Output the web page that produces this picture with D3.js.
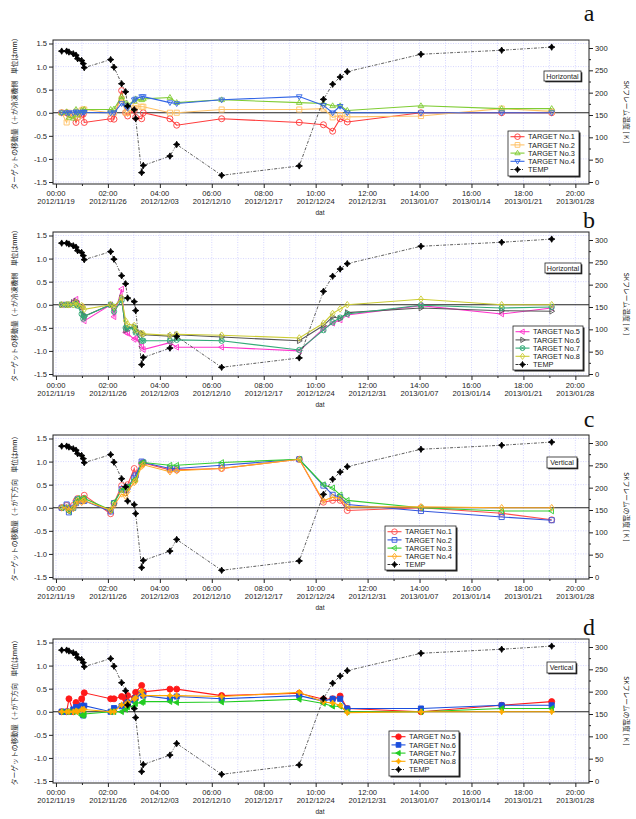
<!DOCTYPE html>
<html><head><meta charset="utf-8">
<script src="https://cdn.jsdelivr.net/npm/d3@7"></script>
<style>body{margin:0;background:#fff}svg{display:block}</style>
</head><body>
<svg id="chart" width="636" height="819"></svg>
<script>
// ---- data ----
// observation times, days since 2012/11/19 00:00
const days = [0.77,1.44,1.75,2.33,2.70,2.92,3.46,3.68,3.81,7.37,7.82,8.85,9.39,9.66,10.55,10.74,11.55,11.77,15.36,16.27,22.33,32.79,36.05,37.29,38.30,39.26,49.19,60.07,66.81];
// SK frame temperature [K]
const temp = [293,293,291,287,284,276,272,265,256,274,257,220,202,170,162,142,21,37,58,84,15,36,185,219,235,247,286,295,302];

// panel a : horizontal, targets 1-4
const hT1 = [0,0,-0.03,-0.05,-0.21,-0.1,-0.05,-0.03,-0.21,-0.13,-0.14,0.48,0.0,-0.07,0.05,-0.1,-0.13,0.0,-0.13,-0.27,-0.13,-0.21,-0.26,-0.4,-0.13,-0.2,0.0,0.0,0.0];
const hT2 = [0,-0.21,0,-0.05,0.02,-0.1,0.05,0.07,0.07,0,0,0.3,0.0,0.0,0.1,0.15,0.13,0.13,0,0,0.07,0.07,0.09,-0.1,-0.05,-0.09,-0.07,0.09,0.03];
const hT3 = [0,0.02,-0.1,-0.12,0.07,-0.05,0.05,0.03,0.07,0.07,0.08,0.35,0.2,0.18,0.25,0.3,0.28,0.3,0.33,0.22,0.28,0.22,0.2,0.15,0.15,0.05,0.15,0.09,0.09];
const hT4 = [0,0,0,0,0.02,0,0,0.02,0.01,0,0,0.2,0.15,0.1,0.28,0.3,0.35,0.35,0.22,0.2,0.28,0.35,0.16,0.0,0.14,0.0,0.0,0.0,0.0];
// panel b : horizontal, targets 5-8
const hT5 = [0,0,0,0.05,0.12,0.02,-0.05,-0.25,-0.35,0,-0.26,0.34,-0.6,-0.62,-0.75,-0.72,-0.9,-0.97,-0.82,-0.92,-0.92,-1.0,-0.52,-0.4,-0.33,-0.22,-0.02,-0.2,-0.07];
const hT6 = [0,0,0,0.05,0.08,0,-0.05,-0.22,-0.25,0,-0.05,0.15,-0.55,-0.5,-0.48,-0.55,-0.62,-0.65,-0.68,-0.65,-0.7,-0.78,-0.45,-0.26,-0.3,-0.17,-0.07,-0.13,-0.14];
const hT7 = [0,0,0,0,0.02,-0.02,-0.2,-0.3,-0.25,0,-0.15,0.1,-0.5,-0.52,-0.5,-0.6,-0.78,-0.78,-0.78,-0.76,-0.78,-0.98,-0.55,-0.38,-0.28,-0.2,-0.01,-0.07,-0.05];
const hT8 = [0,0,0,0,0.05,0,-0.02,-0.05,-0.1,0,-0.05,0.15,-0.35,-0.42,-0.45,-0.55,-0.62,-0.63,-0.66,-0.64,-0.66,-0.72,-0.4,-0.19,-0.09,0.0,0.12,0.0,0.0];
// panel c : vertical, targets 1-4
const vT1 = [0,0.05,-0.05,0.05,0.15,0.2,0.15,0.2,0.27,-0.13,0.1,0.48,0.4,0.5,0.85,0.72,0.95,0.97,0.82,0.82,0.85,1.05,0.12,0.16,0.16,-0.06,0.0,-0.12,-0.26];
const vT2 = [0,0.07,-0.1,0.0,0.1,0.18,0.15,0.15,0.15,-0.08,0.1,0.4,0.38,0.45,0.65,0.7,1.0,0.98,0.85,0.85,0.92,1.05,0.48,0.28,0.23,0.07,-0.07,-0.2,-0.27];
const vT3 = [0,0,-0.08,0,0.12,0.2,0.2,0.18,0.2,-0.05,0.12,0.38,0.42,0.45,0.6,0.62,0.97,0.98,0.92,0.92,0.98,1.05,0.5,0.43,0.28,0.16,0.0,-0.07,-0.07];
const vT4 = [0,0,-0.05,-0.02,0.08,0.15,0.12,0.15,0.15,-0.05,0.05,0.3,0.25,0.35,0.55,0.58,0.9,0.93,0.78,0.8,0.85,1.05,0.15,0.23,0.2,0.02,0.02,0.0,0.0];
// panel d : vertical, targets 5-8
const vT5 = [0,0,0.28,0,0.2,0.1,0.28,0.12,0.41,0.28,0.28,0.33,0.27,0.35,0.3,0.42,0.57,0.43,0.49,0.49,0.35,0.4,0.27,0.28,0.34,0.07,0.0,0.14,0.22];
const vT6 = [0,0,0,0.05,0.1,0.05,0.13,-0.08,0.13,0,0.08,0.12,0.15,0.2,0.25,0.3,0.4,0.35,0.28,0.33,0.28,0.35,0.23,0.28,0.28,0.07,0.07,0.14,0.14];
const vT7 = [0,0,0,0,0,0,-0.08,-0.08,-0.05,0,0,0,0.05,0.1,0.12,0.18,0.2,0.22,0.22,0.2,0.21,0.27,0.18,0.12,0.12,0.0,0.0,0.07,0.07];
const vT8 = [0,0,0,0,0.02,0,0.05,0.05,0.05,0,0,0.15,0.15,0.2,0.28,0.3,0.45,0.35,0.35,0.35,0.33,0.42,0.21,0.19,0.14,-0.02,0.0,0.0,0.0];

const tickDays = [0,7,14,21,28,35,42,49,56,63,70];
const tickTimes = ["00:00","02:00","04:00","06:00","08:00","10:00","12:00","14:00","16:00","18:00","20:00"];
const tickDates = ["2012/11/19","2012/11/26","2012/12/03","2012/12/10","2012/12/17","2012/12/24","2012/12/31","2013/01/07","2013/01/14","2013/01/21","2013/01/28"];
const leftTicks = [-1.5,-1.0,-0.5,0.0,0.5,1.0,1.5];
const rightTicks = [0,50,100,150,200,250,300];
const panelLetters = ["a","b","c","d"];
const modeLabels = ["Horizontal","Horizontal","Vertical","Vertical"];
const leftTitles = ["ターゲットの移動量（＋が冷凍機側　単位はmm）","ターゲットの移動量（＋が冷凍機側　単位はmm）","ターゲットの移動量（＋が下方向　単位はmm）","ターゲットの移動量（＋が下方向　単位はmm）"];
const rightTitles = ["SKフレーム温度 [ K ]","SKフレーム温度 [ K ]","SKフレームの温度 [ K ]","SKフレームの温度 [ K ]"];
const xTitle = "dat";
const tempName = "TEMP";

// ---- layout / style ----
const panels = [
  {top:40, series:[
    {name:"TARGET No.1", v:hT1, color:"#ff3b3b", m:"circle", fill:false},
    {name:"TARGET No.2", v:hT2, color:"#ffc266", m:"square", fill:false},
    {name:"TARGET No.3", v:hT3, color:"#7fcc33", m:"up", fill:false},
    {name:"TARGET No.4", v:hT4, color:"#3366e6", m:"down", fill:false}],
   legend:[508,131,71,45], box:[544,71,37,10]},
  {top:232, series:[
    {name:"TARGET No.5", v:hT5, color:"#ff33cc", m:"left", fill:false},
    {name:"TARGET No.6", v:hT6, color:"#555555", m:"right", fill:false},
    {name:"TARGET No.7", v:hT7, color:"#33aa77", m:"circx", fill:false},
    {name:"TARGET No.8", v:hT8, color:"#cccc33", m:"diamond", fill:false}],
   legend:[513,326,70,44], box:[545,263,36,10]},
  {top:435, series:[
    {name:"TARGET No.1", v:vT1, color:"#ff4d4d", m:"circle", fill:false},
    {name:"TARGET No.2", v:vT2, color:"#3355dd", m:"square", fill:false},
    {name:"TARGET No.3", v:vT3, color:"#33cc33", m:"left", fill:false},
    {name:"TARGET No.4", v:vT4, color:"#ffaa22", m:"diamond", fill:false}],
   legend:[385,526,71,44], box:[547,457,30,11]},
  {top:639, series:[
    {name:"TARGET No.5", v:vT5, color:"#ff1a1a", m:"circle", fill:true},
    {name:"TARGET No.6", v:vT6, color:"#1a4ddd", m:"square", fill:true},
    {name:"TARGET No.7", v:vT7, color:"#22cc22", m:"left", fill:true},
    {name:"TARGET No.8", v:vT8, color:"#ffaa00", m:"star", fill:true}],
   legend:[389,731,70,45], box:[547,662,29,11]}
];
const letterBase = [21,228,427,635];

const L = 53, R = 589, H = 144;
const FONT = "'Liberation Sans', Arial, sans-serif";
const CJK = "'Noto Sans CJK JP', sans-serif";
const svg = d3.select("#chart");
const x = d3.scaleLinear().domain([-0.4, 71.84]).range([L, R]);

function mk(type, r) {
  const a = r*0.95, b = r*0.6;
  switch (type) {
    case "circle": return d3.symbol(d3.symbolCircle, Math.PI*r*r)();
    case "square": { const s = r*0.85; return `M${-s},${-s}H${s}V${s}H${-s}Z`; }
    case "up": return `M0,${-r}L${a},${b}L${-a},${b}Z`;
    case "down": return `M0,${r}L${a},${-b}L${-a},${-b}Z`;
    case "left": return `M${-r},0L${b},${-a}L${b},${a}Z`;
    case "right": return `M${r},0L${-b},${-a}L${-b},${a}Z`;
    case "diamond": return `M0,${-r*1.1}L${r*0.8},0L0,${r*1.1}L${-r*0.8},0Z`;
    case "star": { const q = r*0.35; return `M0,${-r}L${q},${-q}L${r},0L${q},${q}L0,${r}L${-q},${q}L${-r},0L${-q},${-q}Z`; }
    case "circx": { const c = d3.symbol(d3.symbolCircle, Math.PI*r*r*0.8)(); const k = r*0.65; return c + `M${-k},${-k}L${k},${k}M${-k},${k}L${k},${-k}`; }
  }
}

function drawMarker(g, type, cx, cy, color, fill, r) {
  g.append("path").attr("d", mk(type, r)).attr("transform", `translate(${cx},${cy})`)
    .attr("fill", fill ? color : "none").attr("stroke", color).attr("stroke-width", 0.9);
}

panels.forEach((p, i) => {
  const T = p.top, B = T + H;
  const yl = d3.scaleLinear().domain([-1.5, 1.5]).range([T + 142, T + 3.5]);
  const yr = d3.scaleLinear().domain([0, 300]).range([T + 142, T + 8]);
  const g = svg.append("g");

  // grid
  const gx = d3.range(0, 71, 3.5);
  g.selectAll(null).data(gx).join("line")
    .attr("x1", d => x(d)).attr("x2", d => x(d)).attr("y1", T).attr("y2", B)
    .attr("stroke", "#c4c4ff").attr("stroke-width", 0.7).attr("stroke-dasharray", "1,1.5");
  g.selectAll(null).data(leftTicks.filter(d => d !== 0)).join("line")
    .attr("x1", L).attr("x2", R).attr("y1", d => yl(d)).attr("y2", d => yl(d))
    .attr("stroke", "#c4c4ff").attr("stroke-width", 0.7).attr("stroke-dasharray", "1,1.5");

  // zero line
  g.append("line").attr("x1", L).attr("x2", R).attr("y1", yl(0)).attr("y2", yl(0))
    .attr("stroke", "#222").attr("stroke-width", 1.2);

  // frame
  g.append("rect").attr("x", L).attr("y", T).attr("width", R - L).attr("height", H)
    .attr("fill", "none").attr("stroke", "#222").attr("stroke-width", 1);

  // axes
  const axL = g.append("g").attr("transform", `translate(${L},0)`)
    .call(d3.axisLeft(yl).tickValues(leftTicks).tickSize(4).tickFormat(d => d.toFixed(1)));
  const axR = g.append("g").attr("transform", `translate(${R},0)`)
    .call(d3.axisRight(yr).tickValues(rightTicks).tickSize(4).tickFormat(d => String(d)));
  const axRm = g.append("g").attr("transform", `translate(${R},0)`)
    .call(d3.axisRight(yr).tickValues(d3.range(25, 300, 50)).tickSize(2).tickFormat(""));
  const axB = g.append("g").attr("transform", `translate(0,${B})`)
    .call(d3.axisBottom(x).tickValues(tickDays).tickSize(4).tickFormat(""));
  const axBm = g.append("g").attr("transform", `translate(0,${B})`)
    .call(d3.axisBottom(x).tickValues(d3.range(3.5, 71, 7)).tickSize(2).tickFormat(""));
  [axL, axR, axRm, axB, axBm].forEach(a => {
    a.select(".domain").remove();
    a.selectAll("line").attr("stroke", "#222");
    a.selectAll("text").attr("font-family", FONT).attr("font-size", "7.6px").attr("fill", "#222");
  });
  axL.selectAll("text").attr("x", -6);
  axR.selectAll("text").attr("x", 6);

  // bottom two-line labels
  tickDays.forEach((d, k) => {
    g.append("text").attr("x", x(d)).attr("y", B + 11.5).attr("text-anchor", "middle")
      .attr("font-family", FONT).attr("font-size", "7.6px").attr("fill", "#222").text(tickTimes[k]);
    g.append("text").attr("x", x(d)).attr("y", B + 20.3).attr("text-anchor", "middle")
      .attr("font-family", FONT).attr("font-size", "7.6px").attr("fill", "#222").text(tickDates[k]);
  });
  g.append("text").attr("x", 320).attr("y", B + 31).attr("text-anchor", "middle")
    .attr("font-family", FONT).attr("font-size", "6.5px").attr("fill", "#222").text(xTitle);

  // axis titles
  g.append("text").attr("transform", `translate(17,${T + 72}) rotate(-90)`).attr("text-anchor", "middle")
    .attr("font-family", CJK).attr("font-size", "6.8px").attr("fill", "#222").text(leftTitles[i]);
  g.append("text").attr("transform", `translate(624,${T + 72}) rotate(90)`).attr("text-anchor", "middle")
    .attr("font-family", CJK).attr("font-size", "6.8px").attr("fill", "#222").text(rightTitles[i]);

  // panel letter
  g.append("text").attr("x", 589).attr("y", letterBase[i]).attr("text-anchor", "middle")
    .attr("font-family", "'Liberation Serif', 'DejaVu Serif', serif").attr("font-size", "24px").attr("fill", "#111")
    .text(panelLetters[i]);

  // target series
  p.series.forEach(s => {
    const pts = days.map((d, k) => [x(d), yl(s.v[k])]);
    g.append("path").attr("d", d3.line()(pts)).attr("fill", "none")
      .attr("stroke", s.color).attr("stroke-width", 1.1);
    pts.forEach(q => drawMarker(g, s.m, q[0], q[1], s.color, s.fill, 3));
  });

  // temperature
  const tp = days.map((d, k) => [x(d), yr(temp[k])]);
  g.append("path").attr("d", d3.line()(tp)).attr("fill", "none")
    .attr("stroke", "#333").attr("stroke-width", 0.8).attr("stroke-dasharray", "3,1.5,1,1.5");
  tp.forEach(q => drawMarker(g, "star", q[0], q[1], "#000", true, 3.2));

  // mode label box
  const [bx, by, bw, bh] = p.box;
  g.append("rect").attr("x", bx + 1.3).attr("y", by + 1.3).attr("width", bw).attr("height", bh).attr("fill", "#222");
  g.append("rect").attr("x", bx).attr("y", by).attr("width", bw).attr("height", bh)
    .attr("fill", "#fff").attr("stroke", "#222").attr("stroke-width", 0.8);
  g.append("text").attr("x", bx + bw / 2).attr("y", by + bh / 2 + 2.6).attr("text-anchor", "middle")
    .attr("font-family", FONT).attr("font-size", "7.2px").attr("fill", "#222").text(modeLabels[i]);

  // legend
  const [lx, ly, lw, lh] = p.legend;
  g.append("rect").attr("x", lx + 1.5).attr("y", ly + 1.5).attr("width", lw).attr("height", lh).attr("fill", "#222");
  g.append("rect").attr("x", lx).attr("y", ly).attr("width", lw).attr("height", lh)
    .attr("fill", "#fff").attr("stroke", "#222").attr("stroke-width", 0.8);
  const entries = p.series.map(s => ({name: s.name, color: s.color, m: s.m, fill: s.fill, dash: null}))
    .concat([{name: tempName, color: "#000", m: "star", fill: true, dash: "3,1.5,1,1.5"}]);
  entries.forEach((e, j) => {
    const cy = ly + 5.7 + j * 8.2;
    g.append("line").attr("x1", lx + 2.5).attr("x2", lx + 16.5).attr("y1", cy).attr("y2", cy)
      .attr("stroke", e.color).attr("stroke-width", e.dash ? 0.8 : 1.1).attr("stroke-dasharray", e.dash);
    drawMarker(g, e.m, lx + 9.5, cy, e.color, e.fill, e.dash ? 3.0 : 2.8);
    g.append("text").attr("x", lx + 20).attr("y", cy + 2.7)
      .attr("font-family", FONT).attr("font-size", "7.4px").attr("fill", "#222").text(e.name);
  });
});
</script>
</body></html>
